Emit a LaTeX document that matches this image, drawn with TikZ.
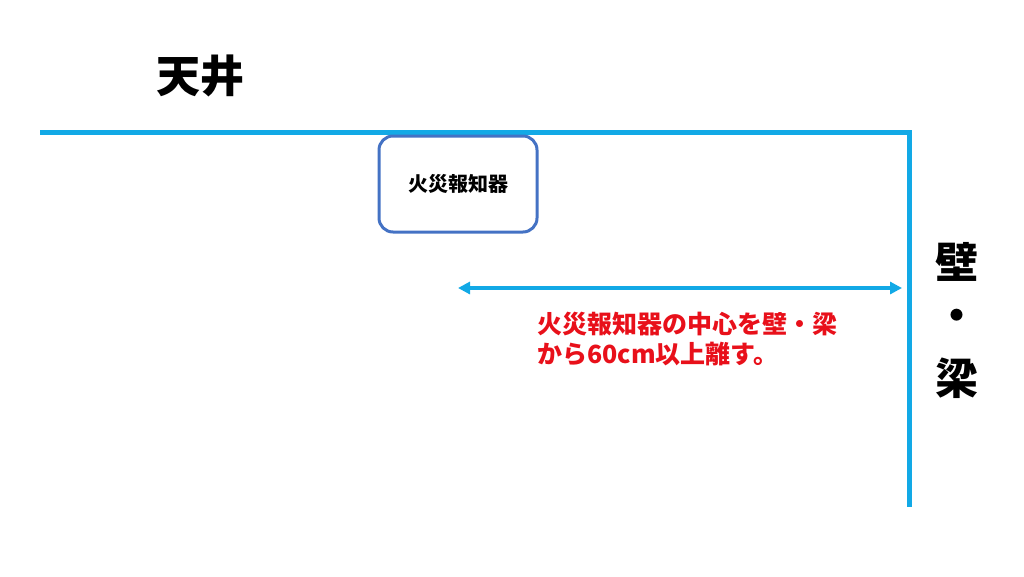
\documentclass[tikz,border=0pt]{standalone}
\usepackage{fontspec}
\usepackage{xcolor}
\usepackage{tikz}
\usetikzlibrary{positioning,arrows.meta}
\newfontfamily\cjk{Noto Sans CJK JP}
\definecolor{lineblue}{HTML}{12A9E6}
\definecolor{boxblue}{HTML}{4472C4}
\definecolor{notered}{HTML}{E8101A}

\begin{document}
\begin{tikzpicture}[x=1pt,y=-1pt]
  \useasboundingbox (0,0) rectangle (1024,576);
  \def\ceiling{(40,132) -- (909,132)}
      \draw[lineblue,line width=5pt] \ceiling -- (909,507);
      \node[draw=boxblue,line width=3pt,rounded corners=14pt,minimum width=158pt,minimum height=96pt,font=\cjk\bfseries\fontsize{20}{22}\selectfont] (detector) at (458,184) {火災報知器};
      \coordinate (left) at (458,288);
      \coordinate (right) at (902,288);
      \draw[lineblue,line width=3.5pt,{Triangle[length=12pt,width=12pt]}-{Triangle[length=12pt,width=12pt]}] (left) -- (right);
      \node[anchor=north west,align=left,text=notered,font=\cjk\bfseries\fontsize{25}{30}\selectfont,inner sep=0pt] (note) at (537,312) {火災報知器の中心を壁・梁\\から60cm以上離す。};
      \node[font=\cjk\bfseries\fontsize{44}{46}\selectfont] (tenjo) at (200,76) {天井};
      \node[font=\cjk\bfseries\fontsize{43}{46}\selectfont] (kabe) at (957,262) {壁};
      \node[font=\cjk\bfseries\fontsize{43}{46}\selectfont] (dot) at (957,320) {・};
      \node[font=\cjk\bfseries\fontsize{43}{46}\selectfont] (hari) at (957,378) {梁};
\end{tikzpicture}
\end{document}
